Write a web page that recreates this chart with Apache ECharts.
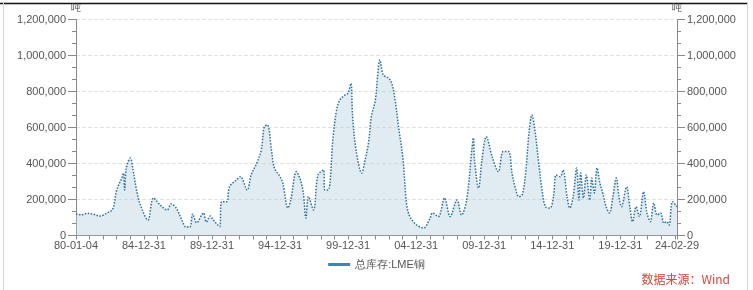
<!DOCTYPE html>
<html><head><meta charset="utf-8">
<script src="https://cdn.jsdelivr.net/npm/echarts@6/dist/echarts.min.js"></script>
<style>html,body{margin:0;padding:0;background:#fff}#c{width:753px;height:290px}</style>
</head><body><div id="c"></div>
<script>
const seriesName = '总库存:LME铜';
const unitName = '吨';
const sourceText = '数据来源：Wind';
const dates = ['1980-01-04','1980-06-01','1980-11-01','1981-04-15','1981-10-15','1982-04-15','1982-09-15','1983-01-01','1983-05-15','1983-07-01','1983-08-01','1983-09-15','1984-01-01','1984-03-15','1984-07-01','1984-10-15','1985-04-15','1985-09-15','1986-03-15','1986-09-15','1987-01-01','1987-05-15','1987-10-15','1988-02-01','1988-05-15','1988-08-01','1988-11-15','1989-05-15','1989-08-01','1989-11-15','1990-02-01','1990-07-01','1990-08-01','1990-09-15','1991-02-01','1991-04-15','1991-10-15','1992-02-01','1992-08-01','1992-11-15','1993-04-15','1993-08-15','1993-11-01','1994-01-25','1994-05-15','1994-08-01','1995-01-01','1995-03-15','1995-08-01','1995-10-15','1996-03-15','1996-07-01','1996-09-15','1996-11-25','1997-02-01','1997-06-15','1997-10-15','1998-03-15','1998-04-15','1998-07-15','1998-11-25','1999-02-25','1999-05-25','1999-10-15','2000-01-01','2000-03-15','2000-05-01','2000-08-01','2001-01-01','2001-04-01','2001-07-01','2001-09-15','2002-01-01','2002-03-01','2002-05-01','2002-08-01','2002-12-15','2003-03-15','2003-06-15','2003-09-15','2004-01-15','2004-04-15','2004-07-15','2005-01-15','2005-07-15','2006-01-01','2006-03-15','2006-08-15','2007-02-01','2007-07-01','2008-01-01','2008-05-01','2008-09-15','2009-02-01','2009-03-15','2009-04-15','2009-08-01','2009-11-01','2010-02-25','2010-08-01','2011-01-15','2011-05-25','2011-10-15','2012-01-15','2012-04-15','2012-07-15','2012-10-15','2013-01-15','2013-04-15','2013-07-01','2013-10-01','2014-01-01','2014-04-01','2014-07-01','2014-11-01','2015-02-01','2015-04-15','2015-08-01','2015-10-15','2016-02-01','2016-04-15','2016-07-15','2016-10-15','2016-12-15','2017-02-01','2017-04-15','2017-07-01','2017-10-01','2017-11-25','2018-02-01','2018-04-15','2018-07-01','2018-09-15','2018-12-15','2019-03-15','2019-06-15','2019-09-15','2019-11-25','2020-02-01','2020-06-15','2020-09-15','2020-11-25','2021-02-25','2021-05-25','2021-09-15','2021-12-15','2022-03-15','2022-06-15','2022-09-15','2022-12-15','2023-03-15','2023-06-01','2023-08-01','2023-11-01','2024-02-29'];
const stocks = [120000,115000,123000,118000,108000,125000,147000,253000,319000,347000,253000,375000,430000,364000,236000,160000,86000,208000,169000,142000,175000,153000,86000,47000,47000,119000,71000,125000,75000,108000,86000,53000,49000,188000,188000,271000,308000,327000,253000,336000,402000,475000,604000,614000,475000,375000,327000,292000,153000,197000,355000,308000,236000,97000,216000,142000,336000,364000,253000,253000,549000,697000,753000,781000,792000,845000,660000,475000,347000,420000,514000,660000,753000,882000,975000,892000,875000,847000,753000,604000,420000,180000,105000,58000,42000,92000,125000,105000,208000,105000,197000,114000,197000,475000,542000,420000,264000,420000,549000,438000,355000,466000,466000,347000,264000,216000,225000,347000,569000,669000,569000,402000,253000,160000,153000,216000,336000,327000,364000,216000,153000,216000,375000,197000,347000,208000,336000,197000,319000,236000,375000,292000,236000,160000,125000,216000,319000,216000,160000,270000,153000,77000,160000,105000,243000,125000,77000,180000,114000,125000,69000,77000,58000,188000,160000];
const xLabelDates = ['1980-01-04','1984-12-31','1989-12-31','1994-12-31','1999-12-31','2004-12-31','2009-12-31','2014-12-31','2019-12-31','2024-02-29'];
const yTicks = [0,200000,400000,600000,800000,1000000,1200000];

function ts(s){const p=s.split('-').map(Number);return Date.UTC(p[0],p[1]-1,p[2]);}
const labelVals = xLabelDates.map(ts);
const tickVals = [ts(xLabelDates[0])];
for(let y=1980;y<=2023;y++) tickVals.push(Date.UTC(y,11,31));
tickVals.push(ts(xLabelDates[xLabelDates.length-1]));
const data = dates.map((d,i)=>[ts(d),stocks[i]]);
function fmtDate(v){const d=new Date(v);const p=n=>String(n).padStart(2,'0');return p(d.getUTCFullYear()%100)+'-'+p(d.getUTCMonth()+1)+'-'+p(d.getUTCDate());}
function fmtNum(v){return Number(v).toLocaleString('en-US');}

const axisCol='#8a8a8a', txtCol='#555';
const font="'Liberation Sans', Arial, sans-serif";
function yAxis(pos){return {
  type:'value', position:pos, min:yTicks[0], max:yTicks[yTicks.length-1], interval:200000,
  name:unitName, nameLocation:'end', nameGap:6,
  nameTextStyle:{color:txtCol,fontSize:10,fontFamily:font,align:'center'},
  axisLine:{show:true,lineStyle:{color:axisCol,width:1}},
  axisTick:{show:true,length:8,lineStyle:{color:axisCol}},
  minorTick:{show:true,splitNumber:3,length:4,lineStyle:{color:axisCol}},
  axisLabel:{color:txtCol,fontSize:11,fontFamily:font,margin:10,formatter:fmtNum},
  splitLine:{show:pos==='left',lineStyle:{color:'#e2e2e2',type:'dashed'}}
};}
const chart = echarts.init(document.getElementById('c'),null,{renderer:'canvas'});
chart.setOption({
  animation:false,
  grid:{left:76,right:76,top:19.5,bottom:54.5,containLabel:false},
  xAxis:{type:'value',min:labelVals[0],max:labelVals[labelVals.length-1],
    axisLine:{lineStyle:{color:axisCol}},
    axisTick:{show:true,length:4,customValues:tickVals,lineStyle:{color:axisCol}},
    axisLabel:{customValues:labelVals,formatter:fmtDate,color:txtCol,fontSize:11,fontFamily:font,margin:5},
    splitLine:{show:false}},
  yAxis:[yAxis('left'),yAxis('right')],
  legend:{bottom:15,left:'center',itemWidth:22,itemHeight:3,icon:'rect',itemGap:10,
    textStyle:{color:txtCol,fontSize:11,fontFamily:font},data:[seriesName]},
  graphic:[
    {type:'line',shape:{x1:0,y1:3.5,x2:748,y2:3.5},style:{stroke:'#111',lineWidth:1.5}},
    {type:'line',shape:{x1:3.5,y1:3,x2:3.5,y2:290},style:{stroke:'#d8d8d8',lineWidth:1}},
    {type:'line',shape:{x1:747.5,y1:3,x2:747.5,y2:290},style:{stroke:'#d8d8d8',lineWidth:1}},
    {type:'text',right:23,bottom:5,style:{text:sourceText,fill:'#d9443c',fontSize:12,fontFamily:"'Noto Sans CJK SC', sans-serif"}}
  ],
  series:[{name:seriesName,type:'line',data:data,showSymbol:false,symbol:'none',smooth:0.35,
    yAxisIndex:0,
    itemStyle:{color:'#3a86b5'},
    lineStyle:{color:'#2b6f9c',width:1.5,type:'dotted'},
    areaStyle:{color:'rgba(180,208,225,0.6)'}}]
});
</script></body></html>
